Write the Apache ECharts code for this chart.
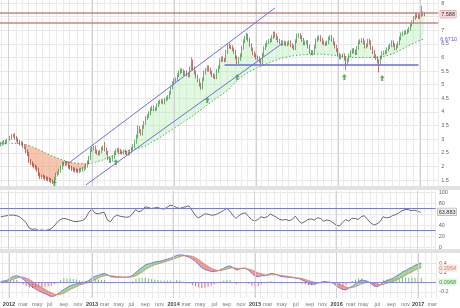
<!DOCTYPE html>
<html>
<head>
<meta charset="utf-8">
<script src="https://cdn.jsdelivr.net/npm/echarts@6.0.0/dist/echarts.min.js"></script>
<style>
html,body{margin:0;padding:0;background:#fff;overflow:hidden}
#chart{width:460px;height:308px}
</style>
</head>
<body>
<div id="chart"></div>
<script>
// ---------------- data ----------------
const startWeek = '2011-11-28';
const weekCount = 278;
const monthNames = ['jan','feb','mar','apr','may','jun','jul','aug','sep','oct','nov','dec'];

const firstOpen = 2.8;
const closes = [
2.83,2.86,2.9,2.88,2.95,3.0,3.05,3.12,3.15,3.05,
2.98,2.9,2.83,2.85,2.75,2.7,2.55,2.45,2.2,2.12,
2.05,2.0,1.95,1.88,1.7,1.6,1.63,1.6,1.56,1.55,
1.52,1.5,1.45,1.42,1.55,1.7,1.76,1.84,1.95,2.1,
2.08,2.13,2.1,1.98,1.95,1.9,1.88,1.85,1.84,1.82,
1.86,1.88,1.9,1.95,2.02,2.15,2.32,2.6,2.65,2.69,
2.55,2.5,2.47,2.55,2.65,2.7,2.62,2.5,2.3,2.2,
2.25,2.35,2.5,2.58,2.6,2.57,2.52,2.5,2.55,2.5,
2.48,2.47,2.55,2.65,2.75,2.9,3.1,3.42,3.3,3.2,
3.45,3.6,3.78,3.85,3.95,4.1,4.16,4.1,4.12,4.25,
4.35,4.38,4.4,4.35,4.45,4.5,4.55,4.7,4.9,5.05,
5.16,5.2,5.35,5.45,5.53,5.5,5.4,5.45,5.38,5.34,
5.6,5.85,5.6,5.45,5.3,5.16,5.0,4.9,5.2,5.45,
5.55,5.64,5.55,5.45,5.35,5.3,5.27,5.5,5.64,5.9,
5.97,5.92,5.9,6.2,6.45,6.4,6.38,6.3,6.2,6.0,
5.83,5.95,6.08,6.35,6.6,6.72,6.8,6.65,6.45,6.3,
6.15,6.08,6.0,5.97,5.88,5.83,6.1,6.34,6.45,6.56,
6.6,6.64,6.75,6.88,6.8,6.71,6.62,6.56,6.5,6.55,
6.52,6.48,6.52,6.56,6.45,6.4,6.34,6.6,6.8,6.82,
6.75,6.65,6.52,6.55,6.56,6.4,6.2,6.15,6.2,6.4,
6.64,6.7,6.75,6.65,6.55,6.52,6.5,6.55,6.7,6.75,
6.65,6.52,6.4,6.27,6.1,6.0,6.05,6.08,5.95,5.8,
5.9,6.08,6.2,6.27,6.22,6.16,6.35,6.56,6.6,6.64,
6.55,6.4,6.45,6.62,6.55,6.35,6.2,6.05,5.97,5.85,
5.79,6.0,6.16,6.18,6.2,6.3,6.38,6.45,6.56,6.45,
6.34,6.42,6.52,6.7,6.85,6.89,6.92,6.93,6.98,7.05,
7.2,7.3,7.45,7.56,7.52,7.48,7.55,7.62,7.6,7.588
];
const wickHigh = {8:3.2, 66:2.9, 87:3.5, 121:6.0, 156:6.9, 267:7.9};
const wickLow = {33:1.36, 127:4.82, 219:5.53, 240:5.45};

// long moving average (dotted green), one value every 4 weeks
const maStep = 4;
const ma = [
2.85,2.85,2.85,2.84,2.8,2.72,2.62,2.5,2.4,2.3,
2.22,2.15,2.12,2.1,2.1,2.15,2.22,2.32,2.42,2.5,
2.57,2.63,2.68,2.75,2.9,3.02,3.18,3.33,3.48,3.63,
3.78,3.95,4.12,4.3,4.47,4.63,4.8,5.05,5.25,5.42,
5.55,5.65,5.75,5.85,5.93,6.0,6.05,6.08,6.1,6.12,
6.12,6.12,6.1,6.08,6.05,6.02,6.0,6.0,6.0,6.0,
6.02,6.05,6.12,6.22,6.35,6.47,6.58,6.67
];

// RSI, one value every 2 weeks
const rsiStep = 2;
const rsi = [
55,56,57,58,58,57,55,50,45,35,
32,33,30,31,30,31,33,38,45,50,
52,51,49,47,46,47,48,52,62,69,
62,60,62,63,49,46,54,58,56,55,
54,55,60,68,64,66,73,72,70,71,
72,70,69,72,76,75,72,70,72,73,
75,67,58,53,56,60,60,58,58,60,
63,66,70,66,58,52,57,61,62,56,
50,47,50,55,53,55,60,57,54,50,
49,50,48,50,56,48,43,46,50,51,
49,53,52,47,49,48,44,40,38,44,
50,47,52,52,50,55,57,50,44,40,
42,46,55,53,54,57,59,62,66,68,
68,66,67,65,63
];

// MACD and signal, one value every 2 weeks
const macdStep = 2;
const macd = [
0.02,0.03,0.05,0.09,0.13,0.14,0.12,0.07,0.01,-0.05,
-0.10,-0.14,-0.18,-0.21,-0.24,-0.27,-0.30,-0.29,-0.25,-0.20,
-0.15,-0.11,-0.07,-0.05,-0.03,-0.02,-0.01,0.01,0.04,0.10,
0.13,0.15,0.17,0.19,0.16,0.12,0.11,0.11,0.11,0.11,
0.11,0.12,0.15,0.21,0.27,0.32,0.37,0.39,0.41,0.43,
0.44,0.45,0.47,0.49,0.51,0.54,0.57,0.58,0.58,0.55,
0.53,0.49,0.44,0.37,0.31,0.27,0.25,0.23,0.23,0.24,
0.27,0.30,0.33,0.35,0.31,0.26,0.28,0.30,0.30,0.25,
0.19,0.13,0.12,0.14,0.14,0.16,0.19,0.18,0.16,0.13,
0.12,0.11,0.11,0.10,0.09,0.08,0.05,0.02,-0.02,-0.04,
-0.04,-0.01,0.0,0.02,0.01,0.0,-0.02,-0.08,-0.12,-0.15,
-0.16,-0.12,-0.08,-0.03,0.02,0.05,0.04,0.02,-0.03,-0.08,
-0.09,-0.05,0.01,0.04,0.06,0.09,0.13,0.17,0.22,0.25,
0.29,0.32,0.36,0.39,0.41
];
const signal = [
0.0,0.01,0.02,0.04,0.07,0.09,0.11,0.11,0.09,0.06,
0.02,-0.03,-0.07,-0.11,-0.15,-0.19,-0.22,-0.25,-0.26,-0.25,
-0.23,-0.19,-0.15,-0.12,-0.09,-0.06,-0.04,-0.02,0.0,0.03,
0.06,0.09,0.12,0.14,0.15,0.14,0.13,0.12,0.12,0.11,
0.11,0.11,0.12,0.14,0.18,0.22,0.27,0.31,0.34,0.37,
0.39,0.41,0.43,0.45,0.47,0.49,0.52,0.54,0.56,0.57,
0.56,0.55,0.52,0.48,0.43,0.38,0.34,0.30,0.27,0.25,
0.25,0.26,0.28,0.30,0.31,0.30,0.29,0.29,0.29,0.28,
0.26,0.23,0.20,0.18,0.16,0.15,0.16,0.16,0.16,0.15,
0.14,0.13,0.12,0.11,0.10,0.09,0.08,0.06,0.04,0.02,
0.0,-0.01,-0.01,0.0,0.0,0.0,0.0,-0.02,-0.04,-0.07,
-0.10,-0.11,-0.11,-0.09,-0.06,-0.03,-0.01,0.0,0.0,-0.02,
-0.04,-0.05,-0.04,-0.02,0.0,0.02,0.05,0.08,0.11,0.15,
0.19,0.22,0.26,0.29,0.31
];

const priceTicks = [1.5,2,2.5,3,3.5,4,4.5,5,5.5,6,6.5,7,7.5,8];
const rsiTicks = [0,20,40,60,80,100];
const macdTicks = [-0.2,0,0.2,0.4];
const resistanceLevels = [7.65, 7.26];
const supportLine = [[142,5.75],[265,5.75]];
const channelUpper = [[43,2.12],[174,7.82]];
const channelLower = [[54,1.32],[178,6.49]];
const buyArrows = [[34,1.39],[73,2.16],[131,4.44],[150,5.28],[218,5.28],[242,5.25]];
const rsiBands = [70,30];
const priceTags = [[7.588,'7.588'],[6.671,'6.6710']];
const rsiTags = [[63.883,'63.883']];
const macdTags = [[0.43,'0.3922'],[0.305,'0.2954'],[0.01,'0.0968']];
const salmonRange = [16,56];
const greenRange = [56,269];

// ---------------- build ----------------
const DAY = 86400000;
const t0 = Date.parse(startWeek + 'T00:00:00Z');
const cats = [], months = [], years = [];
for (let i = 0; i < weekCount; i++) {
  const d = new Date(t0 + i * 7 * DAY);
  cats.push(d.toISOString().slice(0,10));
  months.push(d.getUTCMonth());
  years.push(d.getUTCFullYear());
}
const monthStart = cats.map((c,i) => i > 0 && months[i] !== months[i-1]);
const labelAt = cats.map((c,i) => monthStart[i] && months[i] % 2 === 0);
const yearIdx = [];
cats.forEach((c,i) => { if (monthStart[i] && months[i] === 0) yearIdx.push(i); });

const candles = closes.map((c,i) => {
  const o = i === 0 ? firstOpen : closes[i-1];
  const hi = wickHigh[i] !== undefined ? wickHigh[i] : Math.max(o,c) + 0.07;
  const lo = wickLow[i] !== undefined ? wickLow[i] : Math.min(o,c) - 0.07;
  return [o, c, lo, hi];
});
const sparse = (arr, step) => {
  const out = new Array(weekCount).fill(null);
  arr.forEach((v,k) => { out[k*step] = v; });
  return out;
};
const hist = new Array(weekCount).fill(null);
macd.forEach((v,k) => { hist[k*macdStep] = +(v - signal[k]).toFixed(3); });

const font = 'Liberation Sans, Arial, sans-serif';
const yearLines = (color) => yearIdx.map(i => ({xAxis: i, lineStyle: {color: color, width: 1, type: 'solid'}}));

const xBase = (gi, showLabel) => ({
  type: 'category', gridIndex: gi, data: cats, boundaryGap: true,
  axisLine: {show: false}, axisTick: {show: false},
  splitLine: {show: true, interval: (i) => monthStart[i], lineStyle: {color: '#ebebeb', width: 1}},
  axisLabel: showLabel ? {
    show: true, interval: (i) => labelAt[i], margin: 3, fontSize: 5.5, color: '#777', fontFamily: font,
    formatter: (v) => {
      const d = new Date(v + 'T00:00:00Z');
      const m = d.getUTCMonth();
      return m === 0 ? '{y|' + d.getUTCFullYear() + '}' : monthNames[m];
    },
    rich: {y: {fontWeight: 'bold', color: '#444', fontSize: 5.5, fontFamily: font}}
  } : {show: false}
});

const yBase = (gi, min, max, ticks, fmt) => ({
  type: 'value', gridIndex: gi, position: 'right', min: min, max: max, scale: true,
  axisLine: {show: false}, axisTick: {show: false, customValues: ticks},
  splitLine: {show: true, lineStyle: {color: '#e9e9e9', width: 1}},
  axisLabel: {customValues: ticks, fontSize: 5.5, color: '#666', margin: 3, fontFamily: font, formatter: fmt}
});
const yTag = (gi, min, max, tags, styles) => ({
  type: 'value', gridIndex: gi, position: 'right', min: min, max: max, z: 10,
  axisLine: {show: false}, axisTick: {show: false, customValues: tags.map(t => t[0])},
  splitLine: {show: false},
  axisLabel: {
    customValues: tags.map(t => t[0]), margin: 2, fontFamily: font, fontSize: 5.5,
    formatter: (v) => {
      let k = 0, best = Infinity;
      tags.forEach((t,j) => { const dd = Math.abs(t[0]-v); if (dd < best) { best = dd; k = j; } });
      return '{s' + k + '|' + tags[k][1] + '}';
    },
    rich: styles
  }
});

const priceMin = 1.28, priceMax = 8.11;
const rsiMin = -3.6, rsiMax = 101.8;
const macdMin = -0.33, macdMax = 0.62;

const option = {
  animation: false,
  backgroundColor: '#ffffff',
  grid: [
    {left: 0, right: 16, top: 0, height: 186},
    {left: 0, right: 16, top: 191, height: 58},
    {left: 0, right: 16, top: 253, height: 45}
  ],
  graphic: [
    {type: 'rect', left: 0, top: 186, shape: {width: 460, height: 4}, style: {fill: '#e2e2e2'}, silent: true, z: 0},
    {type: 'rect', left: 0, top: 249, shape: {width: 460, height: 4}, style: {fill: '#e2e2e2'}, silent: true, z: 0}
  ],
  xAxis: [xBase(0,false), xBase(1,false), xBase(2,true)],
  yAxis: [
    yBase(0, priceMin, priceMax, priceTicks, (v) => String(v)),
    yTag(0, priceMin, priceMax, priceTags, {
      s0: {color: '#333', backgroundColor: '#f6dada', borderColor: '#c88', borderWidth: 0.5, padding: [1,1,0,1], fontSize: 5.5, fontFamily: font},
      s1: {color: '#5a5ad8', fontSize: 5.5, fontFamily: font}
    }),
    yBase(1, rsiMin, rsiMax, rsiTicks, (v) => String(v)),
    yTag(1, rsiMin, rsiMax, rsiTags, {
      s0: {color: '#333', backgroundColor: '#eeeeee', borderColor: '#999', borderWidth: 0.5, padding: [1,1,0,1], fontSize: 5.5, fontFamily: font}
    }),
    yBase(2, macdMin, macdMax, macdTicks, (v) => (v === 0 ? '' : String(v))),
    yTag(2, macdMin, macdMax, macdTags, {
      s0: {color: '#5a5ad8', backgroundColor: '#e6e6fa', padding: [1,1,0,1], fontSize: 5.5, fontFamily: font},
      s1: {color: '#d9805f', backgroundColor: '#fbe8e0', padding: [1,1,0,1], fontSize: 5.5, fontFamily: font},
      s2: {color: '#3c9a3c', backgroundColor: '#e2f5e2', padding: [1,1,0,1], fontSize: 5.5, fontFamily: font}
    })
  ],
  series: [
    {
      type: 'custom', xAxisIndex: 0, yAxisIndex: 0, clip: true, silent: true, z: 1,
      data: [[salmonRange[0], salmonRange[1], 1], [greenRange[0], greenRange[1], 0]],
      renderItem: (params, api) => {
        const s = api.value(0), e = api.value(1), kind = api.value(2);
        const pts = [];
        for (let i = s; i <= e; i++) pts.push(api.coord([i, closes[i]]));
        for (let i = Math.floor(e / maStep) * maStep; i >= s; i -= maStep) pts.push(api.coord([i, ma[i / maStep]]));
        return {type: 'polygon', shape: {points: pts},
          style: {fill: kind ? 'rgba(244,160,120,0.6)' : 'rgba(170,235,170,0.35)'}};
      }
    },
    {
      type: 'line', xAxisIndex: 0, yAxisIndex: 0, data: sparse(ma, maStep), connectNulls: true,
      showSymbol: false, silent: true, z: 2,
      lineStyle: {color: '#4caf50', width: 1, type: [1.5, 2]}
    },
    {
      type: 'candlestick', xAxisIndex: 0, yAxisIndex: 0, data: candles, barWidth: '75%', z: 3,
      itemStyle: {color: '#2ea52e', color0: '#c0302a', borderColor: '#22782a', borderColor0: '#8e2420', borderWidth: 0.6},
      markLine: {
        silent: true, symbol: ['none','none'], label: {show: false}, animation: false,
        data: [
          ...yearLines('#d2d2d2'),
          ...resistanceLevels.map(v => ({yAxis: v, lineStyle: {color: '#c98585', width: 1.5, type: 'solid'}})),
          [{coord: supportLine[0], lineStyle: {color: '#6a6ae0', width: 1.5, type: 'solid'}}, {coord: supportLine[1]}],
          [{coord: channelUpper[0], lineStyle: {color: '#7070d8', width: 1, type: 'solid'}}, {coord: channelUpper[1]}],
          [{coord: channelLower[0], lineStyle: {color: '#7070d8', width: 1, type: 'solid'}}, {coord: channelLower[1]}]
        ]
      }
    },
    {
      type: 'scatter', xAxisIndex: 0, yAxisIndex: 0, data: buyArrows, z: 4, silent: true,
      symbol: 'path://M5,0 L10,5 L7,5 L7,10 L3,10 L3,5 L0,5 Z', symbolSize: [5,6],
      itemStyle: {color: '#3aa03a'}
    },
    {
      type: 'line', xAxisIndex: 1, yAxisIndex: 2, data: sparse(rsi, rsiStep), connectNulls: true,
      showSymbol: false, silent: true,
      lineStyle: {color: '#444', width: 0.8},
      markLine: {
        silent: true, symbol: ['none','none'], label: {show: false}, animation: false,
        data: [
          ...yearLines('#d2d2d2'),
          ...rsiBands.map(v => ({yAxis: v, lineStyle: {color: '#7b7bd6', width: 1, type: 'solid'}}))
        ]
      }
    },
    {
      type: 'custom', xAxisIndex: 2, yAxisIndex: 4, silent: true, clip: true, z: 1,
      data: macd.slice(0, -1).map((v,k) => [k]),
      renderItem: (params, api) => {
        const k = api.value(0);
        const i0 = k * macdStep, i1 = (k + 1) * macdStep;
        const up = (macd[k] + macd[k+1]) >= (signal[k] + signal[k+1]);
        return {type: 'polygon', shape: {points: [
          api.coord([i0, macd[k]]), api.coord([i1, macd[k+1]]),
          api.coord([i1, signal[k+1]]), api.coord([i0, signal[k]])
        ]}, style: {fill: up ? 'rgba(90,200,90,0.65)' : 'rgba(230,100,100,0.65)'}};
      }
    },
    {
      type: 'bar', xAxisIndex: 2, yAxisIndex: 4, data: hist, barWidth: 1, silent: true, z: 2,
      itemStyle: {color: (p) => (p.value >= 0 ? '#6cc86c' : '#e07070')},
      markLine: {
        silent: true, symbol: ['none','none'], label: {show: false}, animation: false,
        data: [
          ...yearLines('#d2d2d2'),
          {yAxis: 0, lineStyle: {color: '#8a8ad8', width: 1, type: 'solid'}}
        ]
      }
    },
    {
      type: 'line', xAxisIndex: 2, yAxisIndex: 4, data: sparse(macd, macdStep), connectNulls: true,
      showSymbol: false, silent: true, z: 3, lineStyle: {color: '#6a6ad0', width: 0.8}
    },
    {
      type: 'line', xAxisIndex: 2, yAxisIndex: 4, data: sparse(signal, macdStep), connectNulls: true,
      showSymbol: false, silent: true, z: 3, lineStyle: {color: '#d9805f', width: 0.8}
    }
  ]
};

const chart = echarts.init(document.getElementById('chart'), null, {renderer: 'canvas'});
chart.setOption(option);
</script>
</body>
</html>
